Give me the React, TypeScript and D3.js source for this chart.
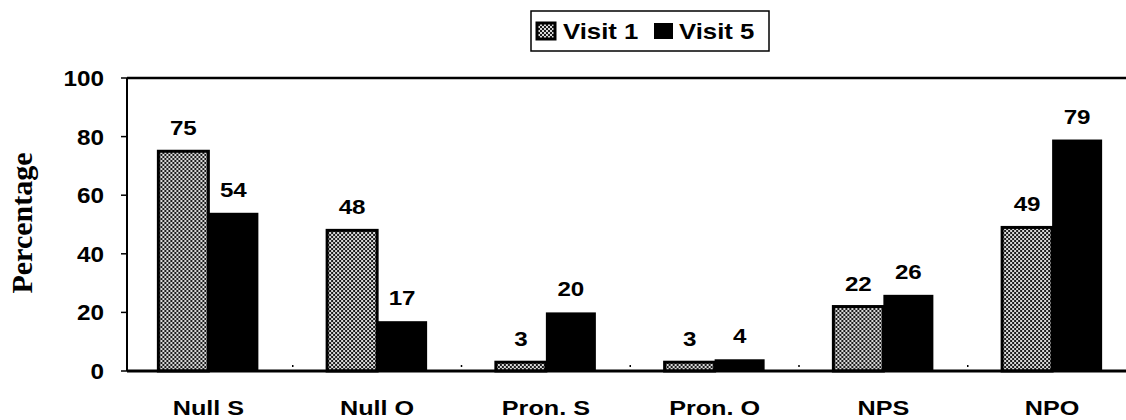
import React from "react";
import * as d3 from "d3";

// Share of each structure at the first and fifth visit
const categories = ["Null S", "Null O", "Pron. S", "Pron. O", "NPS", "NPO"];
const seriesNames = ["Visit 1", "Visit 5"];
const visit1 = [75, 48, 3, 3, 22, 49];
const visit5 = [54, 17, 20, 4, 26, 79];
const yTicks = [0, 20, 40, 60, 80, 100];

const W = 1126;
const H = 420;
const FONT = "'Liberation Sans', Arial, Helvetica, sans-serif";

const x0 = d3.scaleBand<string>().domain(categories).range([124, 1136.5]);
const x1 = d3.scaleBand<string>().domain(seriesNames).range([-50, 50]);
const y = d3.scaleLinear().domain([0, 100]).range([371, 78]);

const seriesValues: Record<string, number[]> = {
  "Visit 1": visit1,
  "Visit 5": visit5,
};

// Horizontally widened bold text, as in the printed figure
function Wide({
  x,
  y: ty,
  size,
  sx,
  anchor = "middle",
  children,
}: {
  x: number;
  y: number;
  size: number;
  sx: number;
  anchor?: "start" | "middle" | "end";
  children: React.ReactNode;
}) {
  return (
    <text
      transform={`translate(${x},${ty}) scale(${sx},1)`}
      fontFamily={FONT}
      fontWeight={700}
      fontSize={size}
      textAnchor={anchor}
      fill="#000"
    >
      {children}
    </text>
  );
}

export default function App() {
  const left = 127;
  const right = 1136;
  return (
    <svg
      width={W}
      height={H}
      viewBox={`0 0 ${W} ${H}`}
      style={{ position: "absolute", left: 0, top: 0, background: "#fff" }}
    >
      <defs>
        <pattern id="stipple" patternUnits="userSpaceOnUse" width={4} height={4}>
          <rect width={4} height={4} fill="#1c1c1c" />
          <rect x={0} y={0} width={2} height={2} fill="#d8d8d8" />
          <rect x={2} y={2} width={2} height={2} fill="#d8d8d8" />
        </pattern>
      </defs>
      <rect width={W} height={H} fill="#fff" />

      {/* legend */}
      <rect x={531} y={11} width={238} height={40} fill="#fff" stroke="#000" strokeWidth={1.5} />
      <rect x={537} y={23} width={18} height={16} fill="url(#stipple)" stroke="#000" strokeWidth={3} />
      <Wide x={563} y={39} size={22} sx={1.17} anchor="start">Visit 1</Wide>
      <rect x={654} y={23} width={19} height={16} fill="#000" />
      <Wide x={679} y={39} size={22} sx={1.17} anchor="start">Visit 5</Wide>

      {/* bars */}
      {categories.map((c, i) => (
        <g key={c} transform={`translate(${(x0(c) ?? 0) + x0.bandwidth() / 2},0)`}>
          {seriesNames.map((s) => {
            const v = seriesValues[s][i];
            const bx = x1(s) ?? 0;
            const bw = x1.bandwidth();
            const top = y(v);
            const first = s === seriesNames[0];
            return (
              <g key={s}>
                <rect
                  x={bx}
                  y={top}
                  width={bw}
                  height={y(0) - top}
                  fill={first ? "url(#stipple)" : "#000"}
                  stroke="#000"
                  strokeWidth={first ? 3 : 0}
                />
                <Wide x={bx + bw / 2} y={top - 16} size={21} sx={1.15}>
                  {v}
                </Wide>
              </g>
            );
          })}
        </g>
      ))}

      {/* plot frame */}
      <line x1={left} x2={right} y1={y(100)} y2={y(100)} stroke="#000" strokeWidth={2.5} />
      <line x1={left} x2={right} y1={y(0)} y2={y(0)} stroke="#000" strokeWidth={3} />
      <line x1={left} x2={left} y1={y(100)} y2={y(0)} stroke="#000" strokeWidth={2} />

      {/* category boundary marks */}
      {categories.slice(1).map((c) => (
        <line
          key={c}
          x1={x0(c) ?? 0}
          x2={x0(c) ?? 0}
          y1={y(0) - 6}
          y2={y(0) - 4}
          stroke="#000"
          strokeWidth={1.5}
        />
      ))}

      {/* y axis */}
      {yTicks.map((t) => (
        <g key={t}>
          <line x1={121} x2={left} y1={y(t)} y2={y(t)} stroke="#000" strokeWidth={1.5} />
          <Wide x={104} y={y(t) + 8} size={22.5} sx={1.08} anchor="end">
            {t}
          </Wide>
        </g>
      ))}

      <text
        transform={`translate(32,${223}) rotate(-90)`}
        fontFamily="'Liberation Serif', 'Times New Roman', serif"
        fontWeight={700}
        fontSize={30}
        textAnchor="middle"
        fill="#000"
      >
        Percentage
      </text>

      {/* category labels */}
      {categories.map((c) => (
        <Wide key={c} x={(x0(c) ?? 0) + x0.bandwidth() / 2} y={415} size={21} sx={1.2}>
          {c}
        </Wide>
      ))}
    </svg>
  );
}
